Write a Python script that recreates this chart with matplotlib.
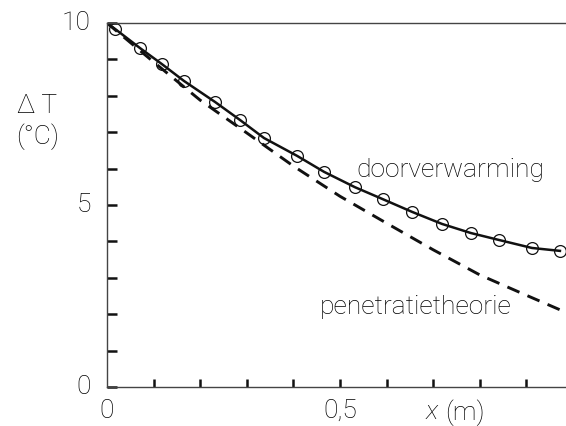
import numpy as np
import matplotlib
matplotlib.use("Agg")
import matplotlib.pyplot as plt

# gemeten punten (doorverwarming)
x_meet = [0.017, 0.071, 0.118, 0.165, 0.232, 0.285, 0.337, 0.408, 0.466,
          0.532, 0.592, 0.655, 0.719, 0.781, 0.841, 0.912, 0.972]
t_meet = [9.84, 9.31, 8.87, 8.41, 7.83, 7.34, 6.84, 6.35, 5.91,
          5.49, 5.16, 4.81, 4.48, 4.23, 4.04, 3.82, 3.74]

# getrokken lijn door de punten
x_door = [0.0] + x_meet
t_door = [10.0] + t_meet

# penetratietheorie (gestreept)
x_pen = [0.0, 0.1, 0.2, 0.3, 0.4, 0.5, 0.6, 0.7, 0.8, 0.9, 0.985]
t_pen = [10.0, 8.93, 7.88, 6.98, 6.07, 5.24, 4.50, 3.77, 3.08, 2.52, 2.05]

plt.rcParams['font.family'] = ['Roboto', 'DejaVu Sans']
kleur = '#000000'
fs = 19
gewicht = 'light'

fig = plt.figure(figsize=(5.66, 4.26), dpi=100)
ax = fig.add_axes([0.189, 0.0915, 0.811, 0.8545])

ax.plot(x_pen, t_pen, color='#111111', lw=2.1, dashes=(4.5, 3))
ax.plot(x_door, t_door, color='#111111', lw=1.8)
ax.plot(x_meet, t_meet, 'o', ms=8.5, mfc='none', mec='#111111', mew=0.9)

ax.set_xlim(0, 0.985)
ax.set_ylim(0, 10)

ax.set_yticks(np.arange(0, 11, 1))
ax.set_yticklabels([])
ax.set_xticks(np.arange(0.1, 0.95, 0.1))
ax.set_xticklabels([])
ax.tick_params(axis='y', direction='in', length=7, width=1.8,
               colors='#111111')
ax.tick_params(axis='x', direction='in', length=6, width=1.8,
               colors='#111111')

for s in ['left', 'bottom', 'top']:
    ax.spines[s].set_linewidth(1.0)
    ax.spines[s].set_color('#444444')
ax.spines['right'].set_visible(False)

# as-labels
for waarde, tekst in [(0, '0'), (5, '5'), (10, '10')]:
    ax.text(-0.035, waarde, tekst, transform=ax.get_yaxis_transform(),
            ha='right', va='center', fontsize=fs, color=kleur,
            fontweight=gewicht)
ax.text(0.0, -0.065, '0', transform=ax.transAxes, ha='center', va='center',
        fontsize=fs, color=kleur, fontweight=gewicht)
ax.text(0.5 / 0.985, -0.065, '0,5', transform=ax.transAxes, ha='center',
        va='center', fontsize=fs, color=kleur, fontweight=gewicht)
fig.text(0.763, 0.032, 'x', ha='center', va='center', fontsize=fs,
         color=kleur, fontweight=gewicht, fontstyle='italic')
fig.text(0.822, 0.032, '(m)', ha='center', va='center', fontsize=fs,
         color=kleur, fontweight=gewicht)
fig.text(0.03, 0.751, 'Δ T', ha='left', va='center', fontsize=fs,
         color=kleur, fontweight=gewicht)
fig.text(0.028, 0.68, '(°C)', ha='left', va='center', fontsize=fs,
         color=kleur, fontweight=gewicht)

ax.text(0.736, 5.95, 'doorverwarming', ha='center', va='center',
        fontsize=fs, color=kleur, fontweight=gewicht)
ax.text(0.663, 2.2, 'penetratietheorie', ha='center', va='center',
        fontsize=fs, color=kleur, fontweight=gewicht)

fig.savefig('out.png', dpi=100)
